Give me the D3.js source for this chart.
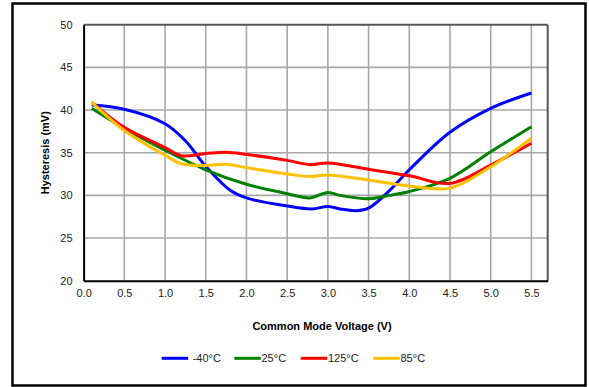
<!DOCTYPE html>
<html><head><meta charset="utf-8">
<script src="https://cdn.jsdelivr.net/npm/d3@7"></script>
<style>body{margin:0;background:#fff}svg{display:block}text{font-family:"Liberation Sans",Arial,sans-serif}</style>
</head><body><svg id="c" width="589" height="387"></svg>
<script>
const xTicks = [0.0,0.5,1.0,1.5,2.0,2.5,3.0,3.5,4.0,4.5,5.0,5.5];
const yTicks = [20,25,30,35,40,45,50];
const seriesNames = ["-40°C","25°C","125°C","85°C"];
const seriesColors = ["#0000ff","#008000","#ff0000","#ffc000"];
const xM40 = [0.1,0.5,1.0,1.25,1.5,1.8,2.0,2.5,2.8,3.0,3.15,3.35,3.5,3.75,4.0,4.5,5.0,5.5];
const yM40 = [40.6,40.1,38.4,36.4,33.4,30.6,29.7,28.75,28.4,28.7,28.4,28.2,28.5,30.5,33.0,37.4,40.2,42.0];
const x25 = [0.1,0.5,1.0,1.5,2.0,2.5,2.78,3.0,3.15,3.5,3.7,4.0,4.5,5.0,5.5];
const y25 = [40.2,37.85,35.3,33.0,31.3,30.2,29.7,30.35,30.0,29.6,29.9,30.45,32.0,35.1,38.05];
const x125 = [0.1,0.5,1.0,1.2,1.5,1.75,2.0,2.5,2.78,3.0,3.5,4.0,4.5,5.0,5.5];
const y125 = [40.9,37.97,35.6,34.65,34.9,35.05,34.8,34.1,33.6,33.8,33.05,32.3,31.4,33.55,36.1];
const x85 = [0.1,0.5,1.0,1.2,1.5,1.75,2.0,2.5,2.78,3.0,3.5,4.0,4.5,5.0,5.5];
const y85 = [40.9,37.6,34.7,33.7,33.5,33.65,33.25,32.5,32.2,32.4,31.8,31.1,30.85,33.35,36.7];

const series = [[xM40,yM40],[x25,y25],[x125,y125],[x85,y85]];
const svg = d3.select("#c");
const L=83.6, R=547.7, T=24.7, B=280.7;
const x = d3.scaleLinear().domain([0,5.7]).range([L,R]);
const y = d3.scaleLinear().domain([20,50]).range([B,T]);

svg.append("rect").attr("x",12.5).attr("y",3.5).attr("width",573).attr("height",382)
  .attr("fill","none").attr("stroke","#000").attr("stroke-width",2.5);

// grid
const g = svg.append("g");
g.selectAll(".vx").data(xTicks.filter(d=>d>0)).join("line")
  .attr("x1",d=>x(d)).attr("x2",d=>x(d)).attr("y1",T).attr("y2",B)
  .attr("stroke","#a8a8a8").attr("stroke-width",1.6);
g.selectAll(".hy").data(yTicks.filter(d=>d>20&&d<50)).join("line")
  .attr("x1",L).attr("x2",R).attr("y1",d=>y(d)).attr("y2",d=>y(d))
  .attr("stroke","#a8a8a8").attr("stroke-width",1.6);
// frame
svg.append("line").attr("x1",L).attr("x2",R).attr("y1",T).attr("y2",T).attr("stroke","#555").attr("stroke-width",2);
svg.append("line").attr("x1",R).attr("x2",R).attr("y1",T).attr("y2",B).attr("stroke","#555").attr("stroke-width",2);

// axes
const xa = svg.append("g").attr("transform",`translate(0,${B})`)
  .call(d3.axisBottom(x).tickValues(xTicks).tickFormat(d3.format(".1f")).tickSize(0).tickPadding(9));
const ya = svg.append("g").attr("transform",`translate(${L},0)`)
  .call(d3.axisLeft(y).tickValues(yTicks).tickSize(0).tickPadding(11));
[xa,ya].forEach(a=>{a.select(".domain").attr("stroke","#000").attr("stroke-width",2);
  a.selectAll("text").attr("font-size",11).attr("fill","#222").style("font-family","Liberation Sans, Arial, sans-serif");});

// lines
const line = d3.line().curve(d3.curveCatmullRom.alpha(0.5));
series.forEach((s,i)=>{
  const pts = s[0].map((v,j)=>[x(v),y(s[1][j])]);
  svg.append("path").attr("d",line(pts)).attr("fill","none")
    .attr("stroke",seriesColors[i]).attr("stroke-width",3).attr("stroke-linejoin","round");
});

// titles
svg.append("text").attr("transform","translate(49,152.7) rotate(-90)").attr("text-anchor","middle")
  .attr("font-size",11).attr("font-weight","bold").text("Hysteresis (mV)");
svg.append("text").attr("x",322).attr("y",330).attr("text-anchor","middle")
  .attr("font-size",11).attr("font-weight","bold").text("Common Mode Voltage (V)");

// legend
const lx=[161.7,234.3,300.7,373.3], tx=[192.7,261.5,328,400.5];
seriesNames.forEach((n,i)=>{
  svg.append("line").attr("x1",lx[i]).attr("x2",lx[i]+26.5).attr("y1",358.3).attr("y2",358.3)
    .attr("stroke",seriesColors[i]).attr("stroke-width",3);
  svg.append("text").attr("x",tx[i]).attr("y",362.3).attr("font-size",11).attr("fill","#222").text(n);
});
</script></body></html>
